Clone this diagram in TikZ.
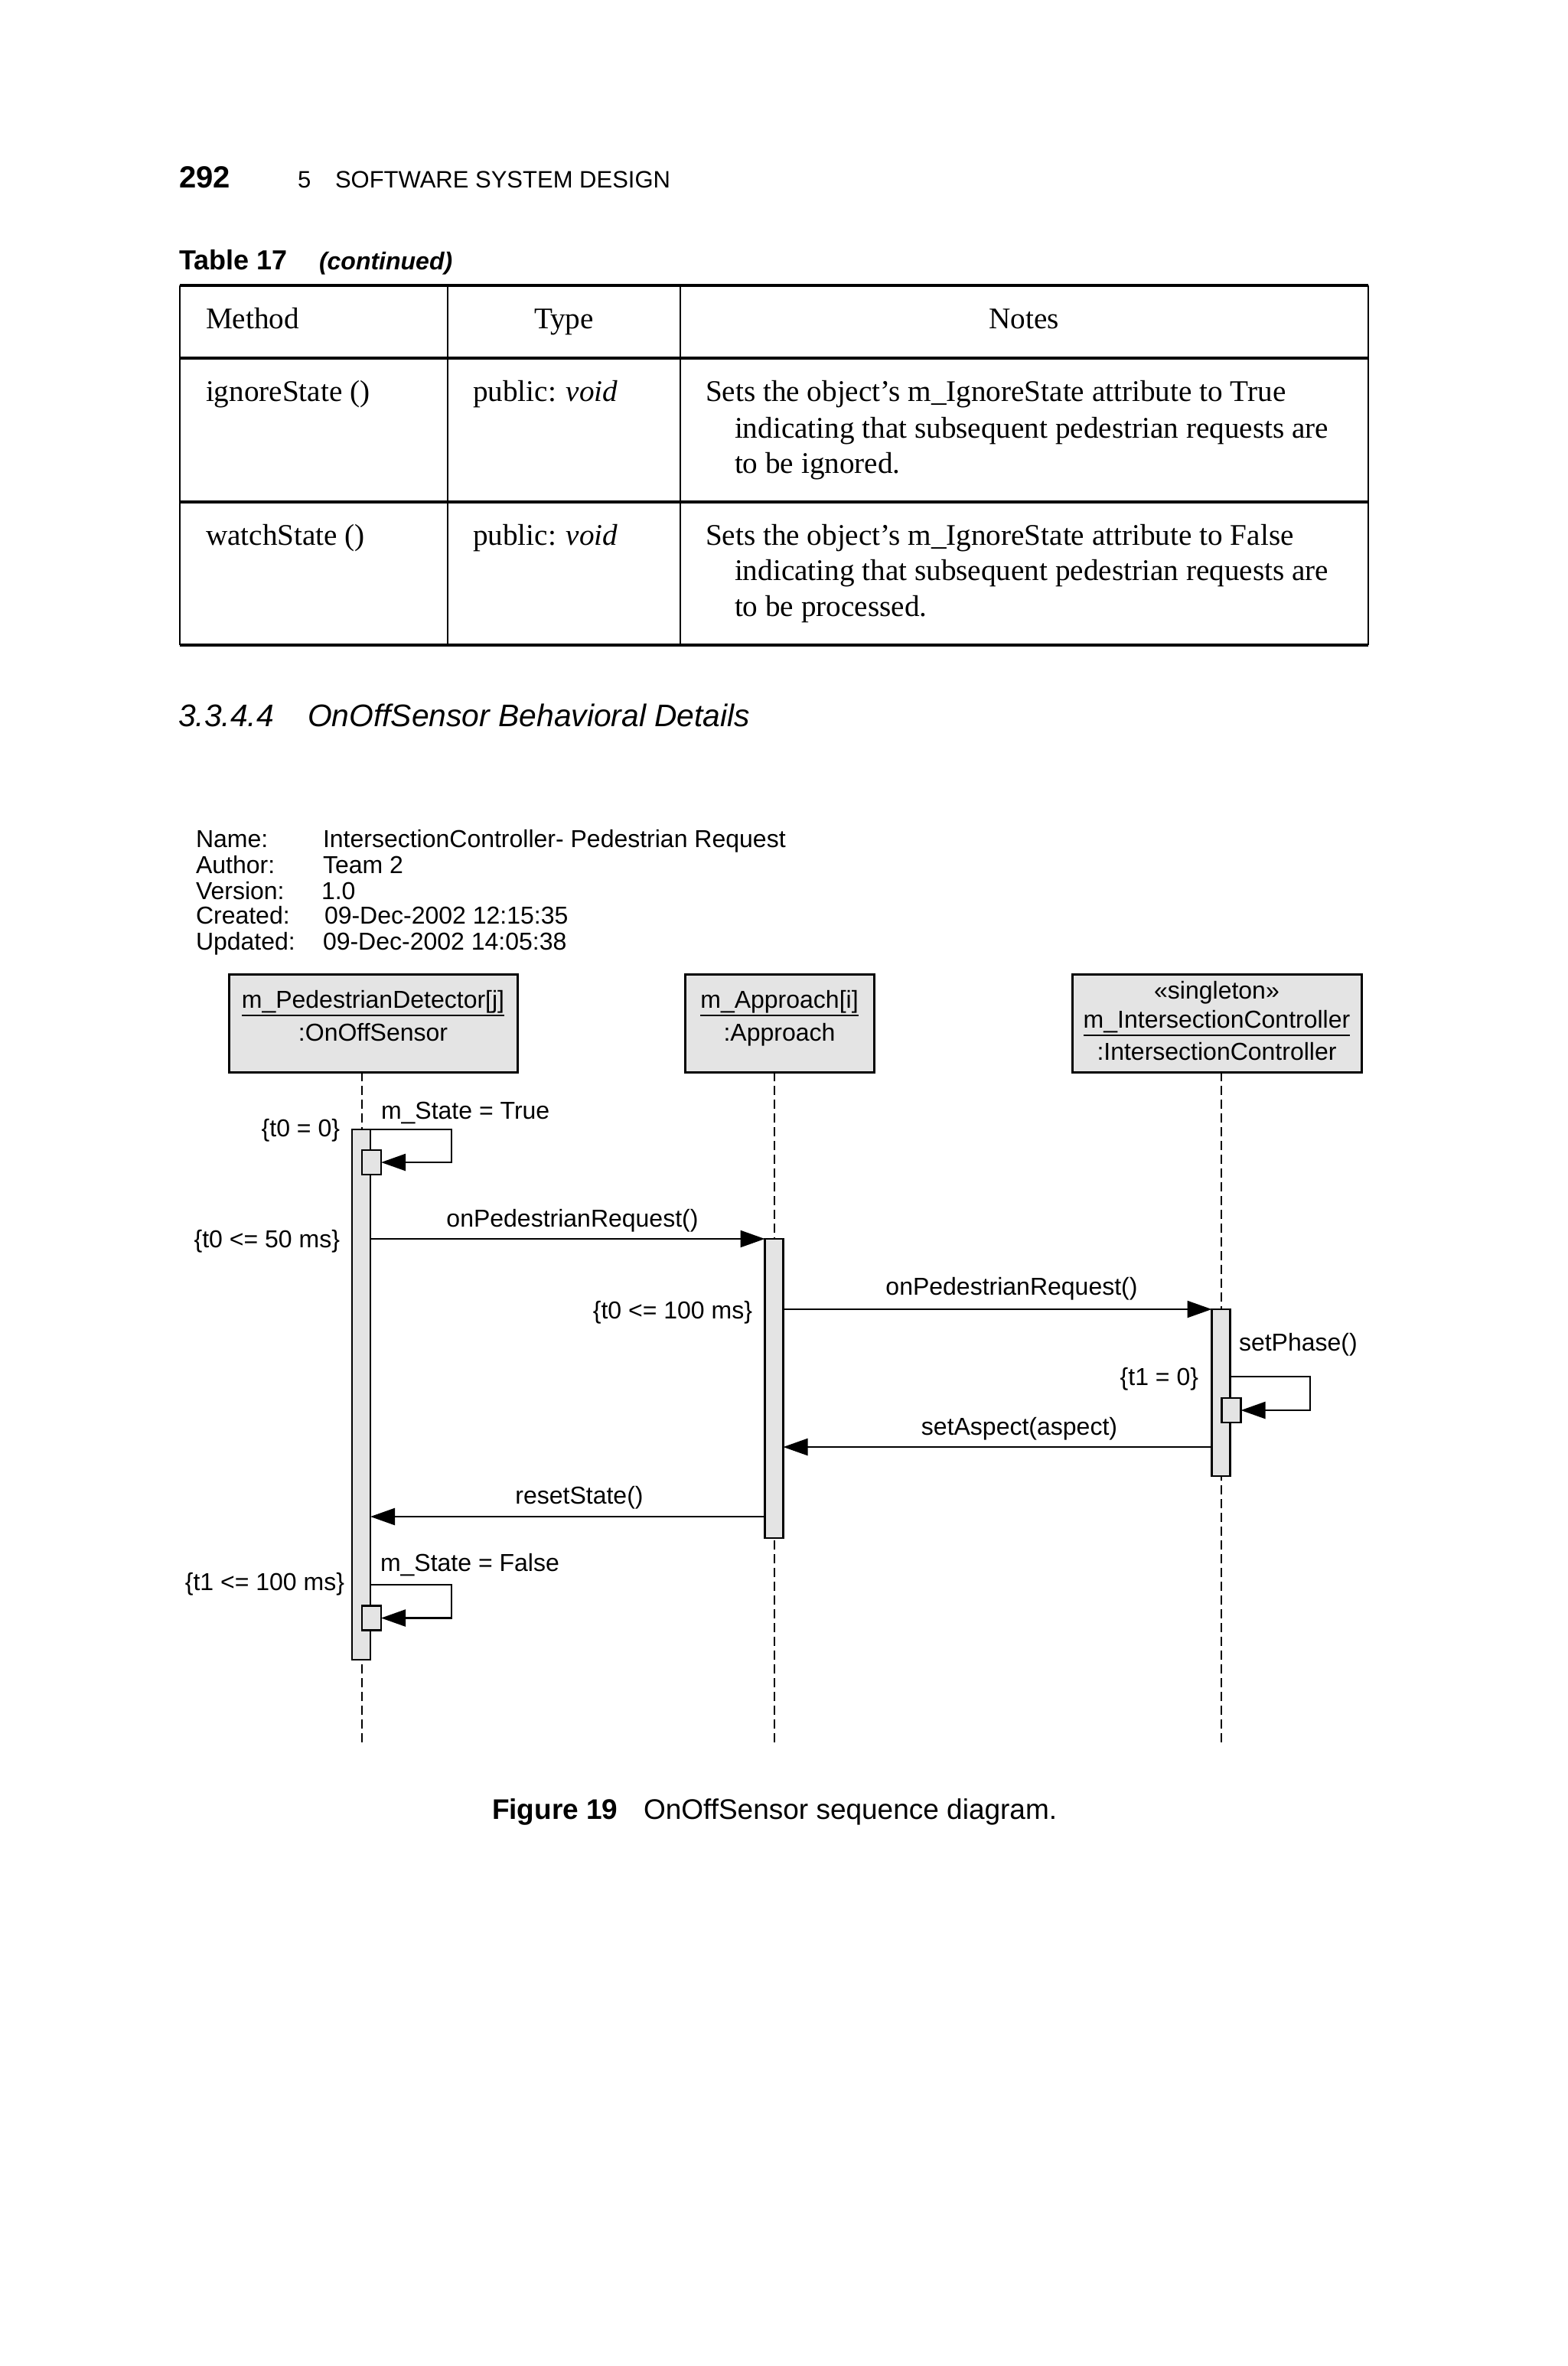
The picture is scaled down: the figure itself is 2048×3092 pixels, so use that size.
\documentclass[tikz,border=0pt]{standalone}
\usepackage{fontspec}
\setmainfont{Liberation Serif}
\newfontfamily\hv{Liberation Sans}
\usetikzlibrary{arrows.meta,calc}
\definecolor{boxgray}{RGB}{228,228,228}
\begin{document}
\begin{tikzpicture}[x=0.25pt,y=-0.25pt,
  tx/.style={inner sep=0pt, outer sep=0pt},
  sans/.style={tx, font=\hv\fontsize{8}{9.6}\selectfont},
  serif/.style={tx, font=\fontsize{9.8}{11.6}\selectfont},
  objbox/.style={draw, line width=0.75pt, fill=boxgray, minimum height=32pt, inner sep=0pt, outer sep=0pt},
  actbar/.style={draw, line width=0.6pt, fill=boxgray, minimum width=6pt, inner sep=0pt, outer sep=0pt},
  selfbox/.style={draw, line width=0.6pt, fill=boxgray, minimum width=6.25pt, minimum height=8pt, inner sep=0pt, outer sep=0pt},
  lifeline/.style={line width=0.5pt, dash pattern=on 3pt off 1.5pt},
  msg/.style={line width=0.6pt, -{Triangle[length=8pt,width=5.5pt]}},
  hrule/.style={line width=1pt},
  vrule/.style={line width=0.6pt}]
\useasboundingbox (0,0) rectangle (2048,3092);
\fill[white] (0,0) rectangle (2048,3092);

% ---------- page header ----------
\node[tx, anchor=base west, font=\hv\bfseries\fontsize{10}{12}\selectfont] (pgno) at (234,246) {292};
\node[tx, anchor=base west, font=\hv\fontsize{7.75}{9}\selectfont] (chno) at (389,246) {5};
\node[tx, anchor=base west, font=\hv\fontsize{7.75}{9}\selectfont] (chtitle) at (438,246) {SOFTWARE SYSTEM DESIGN};
\node[tx, anchor=base west, font=\hv\bfseries\fontsize{9}{11}\selectfont] (tabno) at (234,353) {Table 17};
\node[tx, anchor=base west, font=\hv\bfseries\itshape\fontsize{8}{10}\selectfont] (tabcont) at (417,353) {(continued)};

% ---------- table ----------
\draw[hrule] (235,373) -- (1788,373);
\draw[hrule] (235,468) -- (1788,468);
\draw[hrule] (235,656) -- (1788,656);
\draw[hrule] (235,843) -- (1788,843);
\draw[vrule] (235,373) -- (235,843);
\draw[vrule] (585,373) -- (585,843);
\draw[vrule] (889,373) -- (889,843);
\draw[vrule] (1788,373) -- (1788,843);

\node[serif, anchor=base west] (hMethod) at (269,430) {Method};
\node[serif, anchor=base] (hType) at (737,430) {Type};
\node[serif, anchor=base] (hNotes) at (1338,430) {Notes};

\node[serif, anchor=base west] (r1m) at (269,525) {ignoreState ()};
\node[serif, anchor=base west] (r1t) at (618,525) {public: \textit{void}};
\node[serif, anchor=base west] (r1n1) at (922,525) {Sets the object’s m\_IgnoreState attribute to True};
\node[serif, anchor=base west] (r1n2) at (960,572) {indicating that subsequent pedestrian requests are};
\node[serif, anchor=base west] (r1n3) at (960,618) {to be ignored.};

\node[serif, anchor=base west] (r2m) at (269,712) {watchState ()};
\node[serif, anchor=base west] (r2t) at (618,712) {public: \textit{void}};
\node[serif, anchor=base west] (r2n1) at (922,712) {Sets the object’s m\_IgnoreState attribute to False};
\node[serif, anchor=base west] (r2n2) at (960,758) {indicating that subsequent pedestrian requests are};
\node[serif, anchor=base west] (r2n3) at (960,805) {to be processed.};

% ---------- section title ----------
\node[tx, anchor=base west, font=\hv\itshape\fontsize{10.2}{12}\selectfont] (secno) at (233,949) {3.3.4.4};
\node[tx, anchor=base west, font=\hv\itshape\fontsize{10.2}{12}\selectfont] (sectitle) at (402,949) {OnOffSensor Behavioral Details};

% ---------- metadata ----------
\node[sans, anchor=base west] (kName) at (256,1107) {Name:};
\node[sans, anchor=base west] (vName) at (422,1107) {IntersectionController- Pedestrian Request};
\node[sans, anchor=base west] (kAuth) at (256,1141) {Author:};
\node[sans, anchor=base west] (vAuth) at (422,1141) {Team 2};
\node[sans, anchor=base west] (kVer) at (256,1175) {Version:};
\node[sans, anchor=base west] (vVer) at (420,1175) {1.0};
\node[sans, anchor=base west] (kCre) at (256,1207) {Created:};
\node[sans, anchor=base west] (vCre) at (424,1207) {09-Dec-2002 12:15:35};
\node[sans, anchor=base west] (kUpd) at (256,1241) {Updated:};
\node[sans, anchor=base west] (vUpd) at (422,1241) {09-Dec-2002 14:05:38};

% ---------- object boxes ----------
\node[objbox, minimum width=94.25pt] (pd) at (487.5,1337) {};
\node[objbox, minimum width=61.75pt] (ap) at (1018.5,1337) {};
\node[objbox, minimum width=94.5pt] (ic) at (1590,1337) {};

\node[sans, anchor=base] (pdname) at (487.5,1317) {m\_PedestrianDetector[j]};
\node[sans, anchor=base] (pdtype) at (487.5,1360) {:OnOffSensor};
\draw[line width=0.6pt] ($(pdname.base west)+(0,10)$) -- ($(pdname.base east)+(0,10)$);

\node[sans, anchor=base] (apname) at (1018.5,1317) {m\_Approach[i]};
\node[sans, anchor=base] (aptype) at (1018.5,1360) {:Approach};
\draw[line width=0.6pt] ($(apname.base west)+(0,10)$) -- ($(apname.base east)+(0,10)$);

\node[sans, anchor=base] (icster) at (1590,1305) {«singleton»};
\node[sans, anchor=base] (icname) at (1590,1343) {m\_IntersectionController};
\node[sans, anchor=base] (ictype) at (1590,1385) {:IntersectionController};
\draw[line width=0.6pt] ($(icname.base west)+(0,10)$) -- ($(icname.base east)+(0,10)$);

% ---------- lifelines ----------
\coordinate (l1) at (473,2280);
\coordinate (l2) at (1012,2280);
\coordinate (l3) at (1596,2280);
\draw[lifeline] (l1 |- pd.south) -- (l1);
\draw[lifeline] (l2 |- ap.south) -- (l2);
\draw[lifeline] (l3 |- ic.south) -- (l3);

% ---------- activation bars ----------
\node[actbar, minimum height=173.25pt] (bar1) at (472,1822.5) {};
\node[actbar, minimum height=97.75pt] (bar2) at (1011.5,1814.5) {};
\node[actbar, minimum height=54.5pt] (bar3) at (1595.5,1820) {};
\node[selfbox] (sb1) at (485.5,1519) {};
\node[selfbox] (sb2) at (485.5,2114.5) {};
\node[selfbox] (sb3) at (1609,1843) {};

% ---------- messages ----------
\coordinate (s1) at (590,1476);
\draw[msg] (bar1.north east) -- (s1) |- (sb1.east);

\draw[msg] (bar1.east |- bar2.north) -- (bar2.north west);
\draw[msg] (bar2.east |- bar3.north) -- (bar3.north west);

\coordinate (s3a) at (1608,1799);
\coordinate (s3b) at (1712,1799);
\draw[msg] (s3a) -- (s3b) |- (sb3.east);

\coordinate (ya) at (0,1891);
\draw[msg] (bar3.west |- ya) -- (bar2.east |- ya);

\coordinate (yr) at (0,1982);
\draw[msg] (bar2.west |- yr) -- (bar1.east |- yr);

\coordinate (s2a) at (484,2071);
\coordinate (s2b) at (590,2071);
\draw[msg] (s2a) -- (s2b) |- (sb2.east);

% ---------- message labels ----------
\node[sans, anchor=base west] (lbl1) at (498,1462) {m\_State = True};
\node[sans, anchor=base east] (c1) at (444,1485) {\{t0 = 0\}};
\node[sans, anchor=base] (lbl2) at (748,1603) {onPedestrianRequest()};
\node[sans, anchor=base east] (c2) at (444,1630) {\{t0 <= 50 ms\}};
\node[sans, anchor=base east] (c3) at (983,1723) {\{t0 <= 100 ms\}};
\node[sans, anchor=base] (lbl3) at (1322,1692) {onPedestrianRequest()};
\node[sans, anchor=base west] (lbl4) at (1619,1765) {setPhase()};
\node[sans, anchor=base east] (c4) at (1566,1810) {\{t1 = 0\}};
\node[sans, anchor=base] (lbl5) at (1332,1875) {setAspect(aspect)};
\node[sans, anchor=base] (lbl6) at (757,1965) {resetState()};
\node[sans, anchor=base west] (lbl7) at (497,2053) {m\_State = False};
\node[sans, anchor=base east] (c5) at (450,2078) {\{t1 <= 100 ms\}};

% ---------- caption ----------
\node[tx, anchor=base west, font=\hv\bfseries\fontsize{9.25}{11}\selectfont] (figno) at (643,2377) {Figure 19};
\node[tx, anchor=base west, font=\hv\fontsize{9.25}{11}\selectfont] (figcap) at (841,2377) {OnOffSensor sequence diagram.};
\end{tikzpicture}
\end{document}
